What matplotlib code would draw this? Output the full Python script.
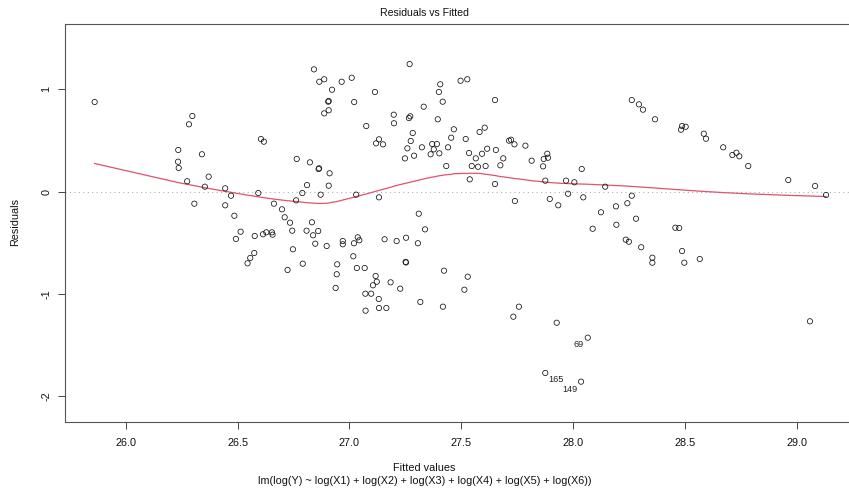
import numpy as np
import matplotlib
matplotlib.use("Agg")
import matplotlib.pyplot as plt

plt.rcParams['font.family'] = ['Liberation Sans', 'DejaVu Sans']

# ---------------- data ----------------
fitted_vals = [
    25.860, 26.297, 26.282, 26.234, 26.340, 26.233, 26.236, 26.370, 26.274, 26.353,
    26.444, 26.470, 26.306, 26.444, 26.485, 26.841, 26.865, 26.887, 26.965, 27.010,
    26.922, 27.114, 26.907, 26.905, 27.021, 26.907, 26.887, 27.075, 26.604, 26.617,
    26.764, 26.823, 26.864, 26.862, 26.911, 26.810, 26.907, 26.592, 26.789, 26.871,
    27.030, 26.761, 26.662, 26.698, 26.710, 26.734, 26.832, 27.269, 27.406, 27.497,
    27.527, 27.400, 27.651, 27.417, 27.332, 27.198, 27.272, 27.266, 27.199, 27.395,
    27.467, 27.605, 27.582, 27.283, 27.455, 27.520, 27.132, 27.274, 27.119, 27.150,
    27.714, 27.723, 27.738, 27.370, 27.391, 27.441, 27.259, 27.324, 27.377, 27.616,
    27.655, 27.535, 27.402, 27.363, 27.593, 27.289, 27.248, 27.565, 27.688, 27.433,
    27.547, 27.575, 27.609, 27.675, 27.538, 27.651, 27.132, 27.740, 27.310, 27.338,
    28.263, 28.295, 28.313, 28.367, 27.787, 27.815, 27.885, 27.869, 27.888, 27.866,
    28.039, 27.876, 27.969, 28.006, 28.144, 27.978, 28.263, 28.046, 27.896, 27.934,
    28.243, 28.192, 28.125, 28.282, 28.194, 28.088, 28.488, 28.504, 28.483, 28.585,
    28.595, 28.672, 28.731, 28.713, 28.744, 28.784, 28.963, 28.458, 28.475, 28.488,
    28.498, 28.567, 29.060, 29.083, 29.132, 26.513, 26.492, 26.576, 26.613, 26.628,
    26.653, 26.656, 26.744, 26.808, 26.860, 26.837, 26.847, 26.898, 26.970, 26.970,
    27.020, 27.037, 27.044, 26.747, 26.574, 26.556, 26.544, 26.723, 26.791, 26.945,
    27.017, 27.033, 27.068, 26.943, 26.938, 27.071, 27.097, 27.072, 27.157, 27.211,
    27.253, 27.306, 27.251, 27.253, 27.423, 27.529, 27.117, 27.122, 27.184, 27.105,
    27.227, 27.514, 27.131, 27.317, 27.132, 27.165, 27.418, 27.733, 27.758, 28.236,
    28.250, 28.305, 28.355, 28.355, 27.927,
]
residual_vals = [
    0.877, 0.740, 0.659, 0.408, 0.366, 0.293, 0.232, 0.147, 0.102, 0.049,
    0.033, -0.039, -0.117, -0.133, -0.235, 1.196, 1.075, 1.099, 1.075, 1.114,
    0.997, 0.975, 0.887, 0.880, 0.877, 0.796, 0.766, 0.642, 0.515, 0.489,
    0.320, 0.287, 0.229, 0.222, 0.180, 0.065, 0.059, -0.013, -0.013, -0.029,
    -0.029, -0.084, -0.117, -0.172, -0.250, -0.303, -0.299, 1.248, 1.050, 1.085,
    1.099, 0.975, 0.896, 0.880, 0.831, 0.753, 0.737, 0.720, 0.669, 0.708,
    0.610, 0.626, 0.584, 0.574, 0.528, 0.515, 0.512, 0.496, 0.473, 0.463,
    0.499, 0.508, 0.463, 0.466, 0.466, 0.434, 0.424, 0.434, 0.414, 0.420,
    0.408, 0.378, 0.375, 0.366, 0.371, 0.352, 0.326, 0.326, 0.326, 0.251,
    0.251, 0.244, 0.251, 0.258, 0.121, 0.075, -0.055, -0.091, -0.215, -0.368,
    0.896, 0.854, 0.802, 0.708, 0.450, 0.303, 0.371, 0.320, 0.332, 0.248,
    0.222, 0.108, 0.108, 0.092, 0.049, -0.020, -0.039, -0.055, -0.071, -0.133,
    -0.113, -0.143, -0.201, -0.264, -0.323, -0.362, 0.642, 0.635, 0.606, 0.567,
    0.518, 0.434, 0.381, 0.359, 0.346, 0.251, 0.114, -0.352, -0.355, -0.580,
    -0.694, -0.658, -1.267, 0.056, -0.032, -0.391, -0.462, -0.433, -0.416, -0.397,
    -0.397, -0.420, -0.381, -0.381, -0.384, -0.426, -0.508, -0.531, -0.482, -0.514,
    -0.504, -0.446, -0.475, -0.563, -0.599, -0.648, -0.700, -0.765, -0.704, -0.710,
    -0.631, -0.746, -0.746, -0.807, -0.941, -0.997, -0.997, -1.163, -0.465, -0.482,
    -0.450, -0.504, -0.687, -0.692, -0.772, -0.831, -0.824, -0.880, -0.886, -0.915,
    -0.948, -0.958, -1.049, -1.078, -1.137, -1.137, -1.124, -1.222, -1.124, -0.469,
    -0.489, -0.543, -0.645, -0.694, -1.281,
]
# labelled observations (largest residuals)
id_labels = ['69', '165', '149']
id_fitted = [28.066, 27.876, 28.036]
id_resid = [-1.427, -1.772, -1.857]

x_ticks = [26.0, 26.5, 27.0, 27.5, 28.0, 28.5, 29.0]
x_tick_labels = ['26.0', '26.5', '27.0', '27.5', '28.0', '28.5', '29.0']
y_ticks = [-2, -1, 0, 1]
y_tick_labels = ['-2', '-1', '0', '1']

title = 'Residuals vs Fitted'
x_label = 'Fitted values'
sub_caption = 'lm(log(Y) ~ log(X1) + log(X2) + log(X3) + log(X4) + log(X5) + log(X6))'
y_label = 'Residuals'


# ---------------- lowess (as R's panel.smooth) ----------------
def lowess(x, y, f=2/3, iters=3):
    x = np.asarray(x, float)
    y = np.asarray(y, float)
    o = np.argsort(x, kind='mergesort')
    x, y = x[o], y[o]
    n = len(x)
    ns = max(min(int(f * n + 1e-7), n), 2)
    rw = np.ones(n)
    fit = np.zeros(n)
    for it in range(iters + 1):
        for i in range(n):
            d = np.abs(x - x[i])
            h = np.sort(d)[ns - 1]
            u = d / h if h > 0 else np.zeros(n)
            w = np.where(u < 0.999, (1 - np.clip(u, 0, 1) ** 3) ** 3, 0.0)
            w = np.where(u <= 0.001, 1.0, w) * rw
            sw = w.sum()
            xm = (w * x).sum() / sw
            ym = (w * y).sum() / sw
            sxx = (w * (x - xm) ** 2).sum()
            if sxx > 1e-12 * h * h:
                b = (w * (x - xm) * (y - ym)).sum() / sxx
                fit[i] = ym + b * (x[i] - xm)
            else:
                fit[i] = ym
        if it == iters:
            break
        res = y - fit
        cmad = 6 * np.median(np.abs(res))
        if cmad < 1e-7:
            break
        r = np.abs(res) / cmad
        rw = np.where(r < 0.999, (1 - np.clip(r, 0, 1) ** 2) ** 2, 0.0)
        rw = np.where(r <= 0.001, 1.0, rw)
    return x, fit


all_x = np.array(fitted_vals + id_fitted)
all_y = np.array(residual_vals + id_resid)


def extendrange(lo, hi, f):
    d = (hi - lo) * f
    return lo - d, hi + d


W, H = 849, 493
fig = plt.figure(figsize=(W / 100, H / 100), dpi=100)
# plot frame in pixels (right edge runs just past the image edge, as in the reference)
L, R, B, T = 65.4, 855.3, 421.8, 23.9
ax = fig.add_axes([L / W, 1 - B / H, (R - L) / W, (B - T) / H])

ax.scatter(all_x, all_y, s=(3.8) ** 2, facecolors='none', edgecolors='#111111',
           linewidths=0.55, zorder=3, clip_on=False)

ax.axhline(0, color='#b0b0b0', lw=0.8, ls=(0, (1, 3)), zorder=1)

sx, sy = lowess(all_x, all_y)
ax.plot(sx, sy, color='#DF536B', lw=0.9, zorder=2)

offsets = [(-6.3, -4.6), (7.7, -5.0), (-7.9, -5.3)]
for lab, xv, yv, off in zip(id_labels, id_fitted, id_resid, offsets):
    ax.annotate(lab, (xv, yv), xytext=off, textcoords='offset points',
                ha='center', va='center', fontsize=6.6, color='#222222')

xlo, xhi = extendrange(all_x.min(), all_x.max(), 0.04)
ylo, yhi = extendrange(all_y.min(), all_y.max(), 0.08)
ylo, yhi = extendrange(ylo, yhi, 0.04)
ax.set_xlim(xlo, xhi)
ax.set_ylim(ylo, yhi)

ax.set_xticks(x_ticks)
ax.set_xticklabels(x_tick_labels)
ax.set_yticks(y_ticks)
ax.set_yticklabels(y_tick_labels, rotation=90, va='center')
ax.tick_params(axis='both', direction='out', length=5.0, width=0.7,
               color='#444444', labelsize=7.8, labelcolor='#111111')
ax.tick_params(axis='x', pad=6.5)
ax.tick_params(axis='y', pad=5.0)
for s in ax.spines.values():
    s.set_color('#555555')
    s.set_linewidth(0.8)

ax.text(0.5, 1 - 13 / H, title, transform=fig.transFigure, ha='center',
        va='center', fontsize=7.6, color='#111111')
fig.text(0.5, 1 - 468 / H, x_label, ha='center', va='center', fontsize=7.8,
         color='#111111')
fig.text(0.5, 1 - 481 / H, sub_caption, ha='center', va='center', fontsize=7.8,
         color='#111111')
fig.text(15 / W, 1 - 222 / H, y_label, ha='center', va='center', rotation=90,
         fontsize=7.8, color='#111111')

fig.savefig('out.png', dpi=100, facecolor='white')
